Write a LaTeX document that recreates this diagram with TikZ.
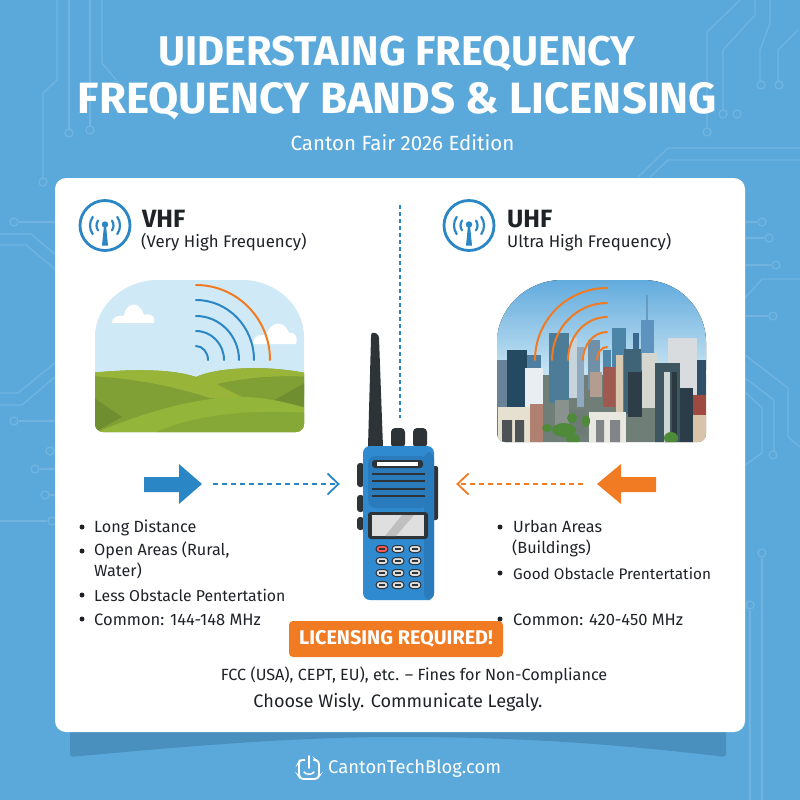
\documentclass[tikz,border=0pt]{standalone}
\usepackage{fontspec}
\setmainfont{Fira Sans}
\usetikzlibrary{arrows.meta,calc}
\definecolor{bgblue}{HTML}{5BA9DA}
\definecolor{trace}{HTML}{70B4DF}
\definecolor{vblue}{HTML}{2A86C4}
\definecolor{oran}{HTML}{F07B22}
\definecolor{ink}{HTML}{1F2328}
\definecolor{band}{HTML}{4A90BE}
\definecolor{sky}{HTML}{CFEAF6}
\definecolor{radio}{HTML}{2F8AD0}
\definecolor{radiod}{HTML}{2A7BBB}
\definecolor{dark}{HTML}{2E3338}
\definecolor{hilla}{HTML}{98B53A}
\definecolor{hillb}{HTML}{80A036}
\definecolor{hillc}{HTML}{6E8E30}
\definecolor{hilld}{HTML}{93B53A}
\definecolor{hille}{HTML}{86A836}
\definecolor{skytop}{HTML}{5DA8DC}
\definecolor{skylow}{HTML}{C4E2F2}
\definecolor{ground}{HTML}{6F7F78}
\definecolor{tree}{HTML}{4F8A3A}
\tikzset{
 tr/.style={draw=trace,line width=1.3pt},
 pad/.style={circle,draw=trace,line width=1.3pt,inner sep=0pt,minimum size=8pt},
 body/.style={font=\fontsize{16.2}{16.2}\selectfont,text=ink,anchor=west,inner sep=0pt,align=left},
 bul/.style={circle,fill=ink,inner sep=0pt,minimum size=5pt},
 wave/.style={line width=2pt,line cap=round},
 head/.style={font=\fontsize{25}{25}\bfseries\selectfont,text=ink,anchor=west,inner sep=0pt},
 sub/.style={font=\fontsize{16.8}{16.8}\selectfont,text=ink,anchor=west,inner sep=0pt},
 flow/.style={line width=1.4pt,dash pattern=on 5pt off 4pt,shorten >=16pt,-{Straight Barb[length=11pt,width=21pt,line width=1.8pt]}},
 ttl/.style={text=white,inner sep=0pt,anchor=base},
}
\begin{document}
\begin{tikzpicture}[x=1pt,y=-1pt]
\useasboundingbox (0,0) rectangle (800,800);
\fill[bgblue] (0,0) rectangle (800,800);
% circuit traces
\draw[tr] (57,0)--(57,80)--(43,93)--(43,178);
\draw[tr] (69,0)--(69,129); \draw[tr] (90,0)--(90,126);
\draw[tr] (102,0)--(102,63)--(122,87);
\draw[tr] (740,0)--(707,32)--(707,128);
\draw[tr] (755,0)--(755,15)--(723,50)--(723,110);
\draw[tr] (770,0)--(770,23)--(760,50)--(760,81);
\draw[tr] (798,30)--(778,50)--(778,81);
\draw[tr] (800,148)--(668,148)--(638,177);
\draw[tr] (800,160)--(668,160)--(650,177);
\node[pad] (pa) at (69,133) {}; \node[pad] (pb) at (90,130) {}; \node[pad] (pc) at (43,182) {};
\node[pad] (pd) at (707,132) {}; \node[pad] (pe) at (723,114) {}; \node[pad] (pf) at (737,114) {};
\node[pad] (pg) at (761,85) {}; \node[pad] (ph) at (779,85) {};
\node[pad] (la) at (14,222) {}; \node[pad] (lb) at (14,421) {}; \node[pad] (lc) at (50,451) {};
\node[pad] (ld) at (35,469) {}; \node[pad] (le) at (45,495) {}; \node[pad] (lf) at (52,521) {};
\draw[tr] (la)--(56,222); \draw[tr] (lb)--(56,421); \draw[tr] (ld)--(56,469); \draw[tr] (le)--(56,495); \draw[tr] (lf)--(0,521);
\draw[tr] (0,234)--(31,234)--(56,255); \draw[tr] (0,245)--(26,245)--(56,270);
\draw[tr] (0,393)--(18,393)--(56,362); \draw[tr] (0,405)--(22,405)--(56,376);
\node[pad] (ra) at (762,222) {}; \node[pad] (rb) at (769,238) {}; \node[pad] (rc) at (776,265) {};
\node[pad] (rd) at (773,316) {}; \node[pad] (re) at (773,455) {}; \node[pad] (rf) at (762,553) {}; \node[pad] (rg) at (750,605) {};
\draw[tr] (ra)--(745,222); \draw[tr] (rb)--(745,238); \draw[tr] (rc)--(745,265); \draw[tr] (rd)--(745,316);
\draw[tr] (745,298)--(762,279)--(800,279);
\draw[tr] (745,355)--(788,388)--(788,437)--(800,447);
\draw[tr] (745,378)--(774,400)--(774,451);
\draw[tr] (745,392)--(762,408)--(762,453)--(745,465);
\draw[tr] (rf)--(762,800); \draw[tr] (rg)--(750,800);
% band behind card
\fill[band,rounded corners=3pt] (70,725) -- (726,725) -- (726,757) .. controls (600,742) and (500,737) .. (400,737) .. controls (300,737) and (200,745) .. (70,757) -- cycle;
% title
\node[ttl,font=\fontsize{41.5}{41.5}\bfseries\selectfont] (t1) at (397,66) {UIDERSTAING FREQUENCY};
\node[ttl,font=\fontsize{43.8}{43.8}\bfseries\selectfont] (t2) at (397.5,113) {FREQUENCY BANDS \& LICENSING};
\node[ttl,font=\fontsize{20.5}{20.5}\selectfont] (t3) at (402.5,150) {Canton Fair 2026 Edition};
% card
\fill[white,rounded corners=11pt] (55,178) rectangle (745,732);
% divider
\coordinate (da) at (400,205); \coordinate (db) at (400,418);
\draw[vblue,line width=1.4pt,dash pattern=on 4pt off 3pt] (da)--(db);
% icons
\foreach \cx/\cy/\nm in {105/225.5/a,469/225.5/b}{
 \node[circle,draw=vblue,line width=2.8pt,minimum size=50pt,inner sep=0pt] (ic\nm) at (\cx,\cy) {};
 \fill[vblue] (\cx,\cy-1) circle (3.2pt);
 \fill[vblue] (\cx-1,\cy) -- (\cx+1,\cy) -- (\cx+3,\cy+20) -- (\cx-3,\cy+20) -- cycle;
 \draw[vblue,line width=2.2pt,line cap=round] ($(\cx,\cy)+(-35:8.5)$) arc (-35:35:8.5);
 \draw[vblue,line width=2.2pt,line cap=round] ($(\cx,\cy)+(145:8.5)$) arc (145:215:8.5);
 \draw[vblue,line width=2.2pt,line cap=round] ($(\cx,\cy)+(-35:15)$) arc (-35:35:15);
 \draw[vblue,line width=2.2pt,line cap=round] ($(\cx,\cy)+(145:15)$) arc (145:215:15);
}
\node[head] (vh) at (142,219) {VHF};
\node[sub] (vs) at (141,242) {(Very High Frequency)};
\node[head] (uh) at (507,219) {UHF};
\node[sub] (us) at (507,242) {Ultra High Frequency)};
% VHF scene
\begin{scope}
\clip[rounded corners=8pt] (95,432) -- (95,345) .. controls (95,305) and (125,280) .. (165,280) -- (235,280) .. controls (275,280) and (304,305) .. (304,345) -- (304,432) -- cycle;
\fill[sky] (90,275) rectangle (310,435);
\fill[white] (112,323) .. controls (112,316) and (120,315) .. (124,316) .. controls (126,301) and (140,301) .. (144,315) .. controls (152,312) and (156,318) .. (154,323) -- cycle;
\fill[white] (253,344) .. controls (253,335) and (262,333) .. (266,336) .. controls (270,320) and (285,320) .. (289,333) .. controls (298,331) and (298,344) .. (295,344) -- cycle;
\fill[hillb] (90,373) .. controls (140,368) and (175,370) .. (196,377) .. controls (215,368) and (265,364) .. (310,374) -- (310,435) -- (90,435) -- cycle;
\fill[hilla] (90,373) .. controls (140,368) and (175,370) .. (196,377) .. controls (215,368) and (265,364) .. (310,374) -- (310,377) .. controls (275,375) and (245,378) .. (217,384) .. controls (232,392) and (240,396) .. (248,400) -- (210,398) .. controls (170,385) and (130,378) .. (90,376) -- cycle;
\fill[hillb] (217,384) .. controls (245,378) and (275,375) .. (310,377) -- (310,395) .. controls (290,400) and (270,400) .. (248,400) -- cycle;
\fill[hillc] (310,380) -- (310,410) -- (270,402) .. controls (285,395) and (295,388) .. (310,380) -- cycle;
\fill[hillc] (90,395) -- (122,417) -- (95,432) -- (90,435) -- cycle;
\fill[hilld] (97,432) .. controls (150,410) and (200,397) .. (240,397) .. controls (265,397) and (285,402) .. (310,409) -- (310,435) -- (97,435) -- cycle;
\fill[hille] (150,435) .. controls (180,420) and (230,408) .. (310,413) -- (310,435) -- cycle;
\end{scope}
\draw[oran,wave] (196,285) arc (-90:0:74 and 75);
\draw[vblue,wave] (196,300) arc (-90:0:58 and 60);
\draw[vblue,wave] (196,316) arc (-90:0:43 and 44);
\draw[vblue,wave] (196,331) arc (-90:0:28 and 29);
\draw[vblue,wave] (196,346) arc (-90:0:12 and 14);
% UHF scene
\begin{scope}
\clip[rounded corners=8pt] (497,442) -- (497,350) .. controls (497,310) and (525,280) .. (570,280) -- (635,280) .. controls (680,280) and (706,310) .. (706,350) -- (706,442) -- cycle;
\fill[top color=skytop,bottom color=skylow] (490,275) rectangle (710,370);
\fill[skylow] (490,370) rectangle (710,380);
\fill[ground] (490,375) rectangle (710,445);
\foreach \x/\y/\w/\h/\c in {
 497/360/10/60/6A8298, 527/355/14/50/4E7FA0, 569/338/8/60/C8D4DC, 577/347/7/60/8FAAC0, 588/340/12/50/7090A8,
 603/350/8/40/4F86AC, 612/328/14/50/4D85A8, 633/333/6/30/3A6A90, 616/355/7/60/D8C8B0, 624/349/18/65/3F6478, 628/372/14/45/2E3E48,
 641/320/13/50/5D93BE, 642/353/15/55/D6D6D0, 668/338/29/70/D8DCDE, 697/360/9/45/30506A, 507/350/20/65/234A60, 525/368/18/50/E8EEF2,
 549/333/20/70/4D7C98, 590/372/12/25/B39C90, 603/367/12/40/9E5A50, 680/388/13/55/2A3D48, 693/395/13/30/9E4A40, 693/415/13/30/D8C4A8, 655/363/25/85/3E5660,
 664/372/6/70/D0D6D4, 672/372/5/70/2A3A40, 498/407/32/40/E6E0D0, 530/404/13/40/B08070, 589/412/37/35/E8E8E0, 555/400/14/30/8A9290, 570/410/16/25/6E7B74}{
 \definecolor{bld}{HTML}{\c}\fill[bld] (\x,\y) rectangle ++(\w,\h);
}
\draw[line width=1.2pt,draw=skytop!70!gray] (647,320)--(647,295);
\fill[dark!85] (502,420) rectangle (512,442) (515,420) rectangle (524,442);
\fill[dark!60] (596,420) rectangle (604,442) (610,420) rectangle (620,442);
\fill[tree] (564,430) ellipse (12 and 7) (572,418) ellipse (5 and 5) (573,439) ellipse (7 and 5) (671,438) ellipse (7 and 6) (586,421) ellipse (4 and 6) (547,428) ellipse (5 and 4);
\end{scope}
\draw[oran,wave] (607,288) arc (-90:-180:72);
\draw[oran,wave] (607,303) arc (-90:-180:55 and 57);
\draw[oran,wave] (607,317) arc (-90:-180:39 and 43);
\draw[oran,wave] (607,332) arc (-90:-180:24 and 28);
\draw[oran,wave] (607,347) arc (-90:-180:10 and 13);
% radio
\node[inner sep=0pt,minimum width=84pt,minimum height=150pt] (radio) at (398,484) {};
\fill[dark] (372,333) .. controls (375,332) and (379,334) .. (379,338) -- (383,447) -- (368,447) -- (371,338) .. controls (371,335) and (371,334) .. (372,333) -- cycle;
\fill[dark,rounded corners=4pt] (391,428) rectangle (405,448);
\fill[dark,rounded corners=4pt] (413,428) rectangle (427,448);
\fill[dark,rounded corners=3pt] (357,463) rectangle (364,487);
\fill[dark,rounded corners=3pt] (357,495) rectangle (364,512);
\fill[dark,rounded corners=3pt] (357,517) rectangle (364,530);
\fill[dark,rounded corners=2pt] (432,466) rectangle (438,520);
\fill[radio,rounded corners=7pt] (363,446) rectangle (434,600);
\fill[radiod,rounded corners=7pt] (424,452) rectangle (434,600);
\fill[radiod,rounded corners=8pt] (368,456) rectangle (428,508);
\fill[dark,rounded corners=3pt] (372,460) rectangle (423,468);
\fill[white] (377,462) rectangle (418,466);
\foreach \y in {472.5,480,487.5,495}{ \fill[dark] (372,\y) rectangle (425,\y+2); }
\fill[dark,rounded corners=3pt] (368,512) rectangle (428,539);
\fill[gray!25] (372,515) rectangle (424,536);
\fill[gray!50] (385,536) -- (402,515) -- (414,515) -- (396,536) -- cycle;
\foreach \kx/\ky/\kc in {382/549/red!65,398/549/gray!25,415/549/gray!25,382/561/gray!25,398/561/gray!25,415/561/gray!25,382/573/gray!25,398/573/gray!25,415/573/gray!25,382/585/gray!25,398/585/gray!25,415/585/gray!25}{
 \filldraw[fill=\kc,draw=dark,line width=1pt,rounded corners=3.5pt] (\kx-6,\ky-3.5) rectangle (\kx+6,\ky+3.5);
 \fill[dark] (\kx-3,\ky-.8) rectangle (\kx+3,\ky+.8);
}
% arrows
\fill[vblue] (144,477) -- (179,477) -- (179,464) -- (202,484) -- (179,504) -- (179,492) -- (144,492) -- cycle;
\fill[oran] (656,477) -- (621,477) -- (621,464) -- (597,484) -- (621,504) -- (621,492) -- (656,492) -- cycle;
\coordinate (af) at (213,484); \coordinate (ag) at (583,484);
\draw[flow,vblue] (af) -- (radio.west);
\draw[flow,oran] (ag) -- (radio.east);
% lists
\foreach \y in {527,551,595,619}{ \node[bul] at (82,\y) {}; }
\node[body] (l1) at (94,527.5) {Long Distance};
\node[body] (l2) at (94,550) {Open Areas (Rural,};
\node[body] (l3) at (94,571) {Water)};
\node[body,font=\fontsize{15.8}{15.8}\selectfont] (l4) at (94,595.5) {Less Obstacle Pentertation};
\node[body,font=\fontsize{16.5}{16.5}\selectfont] (l5) at (94,619.5) {Common: 144-148 MHz};
\foreach \y in {527,573,619}{ \node[bul] at (500,\y) {}; }
\node[body] (r1) at (513,526.5) {Urban Areas};
\node[body] (r2) at (512,548.5) {(Buildings)};
\node[body,font=\fontsize{15.3}{15.3}\selectfont] (r3) at (513,573.5) {Good Obstacle Prentertation};
\node[body,font=\fontsize{16.5}{16.5}\selectfont] (r4) at (513,619.5) {Common: 420-450 MHz};
% licensing
\node[fill=oran,rounded corners=4pt,minimum width=214pt,minimum height=36pt,inner sep=0pt,text=white,font=\fontsize{19.8}{19.8}\bfseries\selectfont] (lic) at (396,639) {LICENSING REQUIRED!};
\node[font=\fontsize{16.2}{16.2}\selectfont,text=ink,inner sep=0pt] (fcc) at (414,675) {FCC (USA), CEPT, EU), etc. -- Fines for Non-Compliance};
\node[font=\fontsize{18.1}{18.1}\selectfont,text=ink,inner sep=0pt] (ch) at (398,702) {Choose Wisly. Communicate Legaly.};
% footer
\node[font=\fontsize{18.4}{18.4}\selectfont,text=white,inner sep=0pt,anchor=west] (site) at (328,769) {CantonTechBlog.com};
\draw[white,line width=1.8pt,rounded corners=2.5pt] (305,760)--(300,760)--(299,762)--(299,776)--(301,779)--(317,779)--(319,776)--(319,762)--(316,760)--(314,760);
\draw[white,line width=1.8pt,line cap=round] (309,756)--(309,768);
\draw[white,line width=1.5pt,line cap=round] (304,772) .. controls (306,775) and (312,775) .. (314,772);
\end{tikzpicture}
\end{document}
